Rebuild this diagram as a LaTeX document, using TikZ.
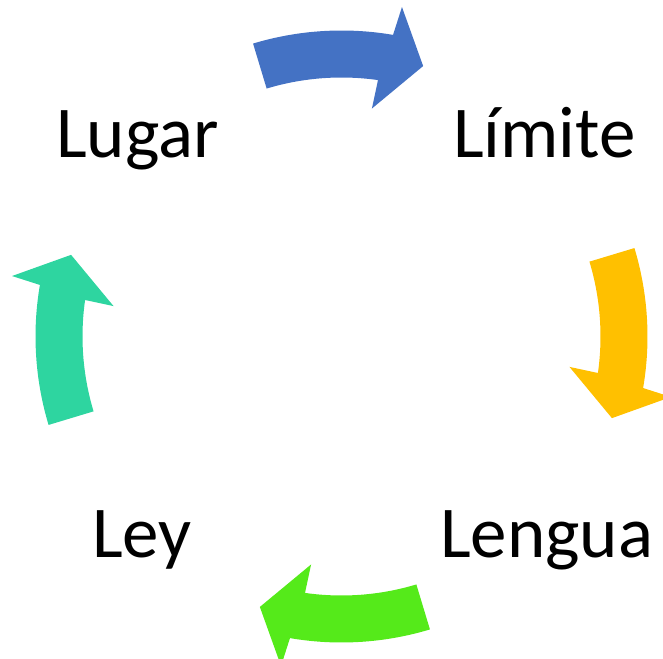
\documentclass[tikz,border=0pt]{standalone}
\usepackage{fontspec}
\setmainfont{Carlito}
\definecolor{cblue}{HTML}{4472C4}
\definecolor{cyellow}{HTML}{FFC000}
\definecolor{cgreen}{HTML}{55EA1A}
\definecolor{cteal}{HTML}{2ED5A0}
\newcommand\cycarrow[2]{%
  \begin{scope}[shift={(341.5,321.5)},rotate=#1]
    \fill[#2] (106.8:306) arc[start angle=106.8,end angle=80.3,radius=306]
      -- (79.6:335) -- (73.2:282.5) -- (82.4:230) -- (81.9:259)
      arc[start angle=81.9,end angle=106.8,radius=259] -- cycle;
  \end{scope}}
\begin{document}
\begin{tikzpicture}[x=1pt,y=1pt,
  word/.style={anchor=base west,inner sep=0pt,font=\fontsize{73}{80}\selectfont}]
\useasboundingbox (0,0) rectangle (663,658);
\cycarrow{0}{cblue}
\cycarrow{-90}{cyellow}
\cycarrow{-180}{cgreen}
\cycarrow{-270}{cteal}
\node[word] (lugar) at (56,500) {Lugar};
\node[word] (limite) at (453,500) {Límite};
\node[word] (lengua) at (440,100) {Lengua};
\node[word] (ley) at (92,100) {Ley};
\end{tikzpicture}
\end{document}
